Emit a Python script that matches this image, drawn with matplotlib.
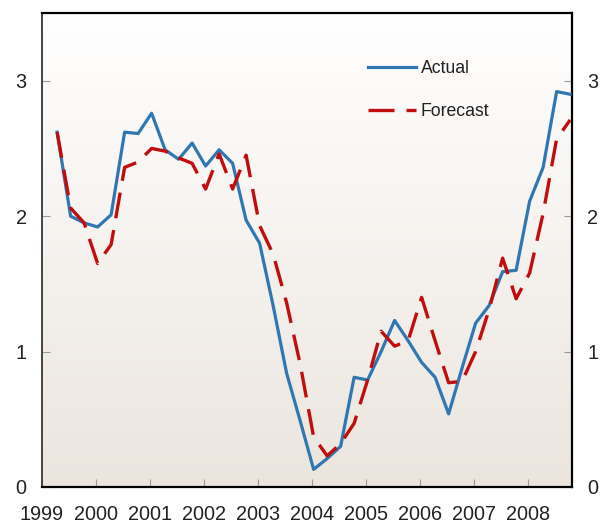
import matplotlib

matplotlib.use("Agg")
import matplotlib.pyplot as plt
import numpy as np
from matplotlib.colors import LinearSegmentedColormap

plt.rcParams["font.family"] = ["Liberation Sans", "DejaVu Sans"]

# quarterly observations, first one in early 1999
actual = [2.62, 2.00, 1.95, 1.92, 2.01, 2.62, 2.61, 2.76, 2.49, 2.42,
          2.54, 2.37, 2.49, 2.39, 1.97, 1.80, 1.34, 0.84, 0.49, 0.13,
          0.21, 0.30, 0.81, 0.79, 1.00, 1.23, 1.08, 0.92, 0.81, 0.54,
          0.88, 1.21, 1.34, 1.59, 1.60, 2.11, 2.36, 2.92, 2.90]
forecast = [2.62, 2.06, 1.95, 1.65, 1.79, 2.36, 2.40, 2.50, 2.48, 2.43,
            2.39, 2.20, 2.46, 2.20, 2.45, 1.93, 1.72, 1.36, 0.91, 0.37,
            0.23, 0.32, 0.47, 0.79, 1.15, 1.04, 1.08, 1.40, 1.08, 0.77,
            0.78, 1.00, 1.31, 1.69, 1.39, 1.58, 2.02, 2.57, 2.71]
years = list(range(1999, 2009))
yticks = [0, 1, 2, 3]

x = 1999.28 + 0.25 * np.arange(len(actual))

BLUE = "#3077b1"
RED = "#c00d0d"
TEXT = "#222222"

fig = plt.figure(figsize=(6.04, 5.27), dpi=100)
ax = fig.add_axes([42 / 604, 40 / 527, 530 / 604, 474 / 527])

xmin, xmax = 1999.0, 1999.0 + 530 / 54
ymin, ymax = 0, 3.5

# background gradient, white at the top to beige at the bottom
bg = LinearSegmentedColormap.from_list(
    "bg", [(0, "#ebe5de"), (0.88, "#fdfcfb"), (1, "#ffffff")]
)
grad = np.linspace(0, 1, 256).reshape(-1, 1)
ax.imshow(grad, extent=[xmin, xmax, ymin, ymax], origin="lower",
          aspect="auto", cmap=bg, zorder=0)

ax.plot(x, actual, color=BLUE, lw=2.3, label="Actual", zorder=3)
ax.plot(x, forecast, color=RED, lw=2.4, linestyle=(0, (7.8, 3.6)),
        label="Forecast", zorder=4)

ax.set_xlim(xmin, xmax)
ax.set_ylim(ymin, ymax)

ax.set_xticks(years)
ax.set_xticklabels([str(y) for y in years])
ax.set_yticks(yticks)
ax.tick_params(axis="x", direction="in", length=6, color="#999999",
               labelsize=14.3, labelcolor=TEXT, pad=13)
ax.tick_params(axis="y", direction="in", length=6, color="#999999",
               labelsize=14.3, labelcolor=TEXT, pad=11,
               left=True, right=True, labelleft=True, labelright=True)

for side in ["top", "right", "bottom"]:
    ax.spines[side].set_color("black")
    ax.spines[side].set_linewidth(1.6)
ax.spines["left"].set_color("#444444")
ax.spines["left"].set_linewidth(1.4)

leg = ax.legend(
    loc="upper left",
    bbox_to_anchor=(0.615, 0.90),
    frameon=False,
    fontsize=12.7,
    handlelength=2.7,
    handletextpad=0.3,
    labelspacing=1.45,
    borderpad=0,
    borderaxespad=0,
)
for t in leg.get_texts():
    t.set_color(TEXT)

fig.savefig("out.png", dpi=100)
plt.close(fig)
